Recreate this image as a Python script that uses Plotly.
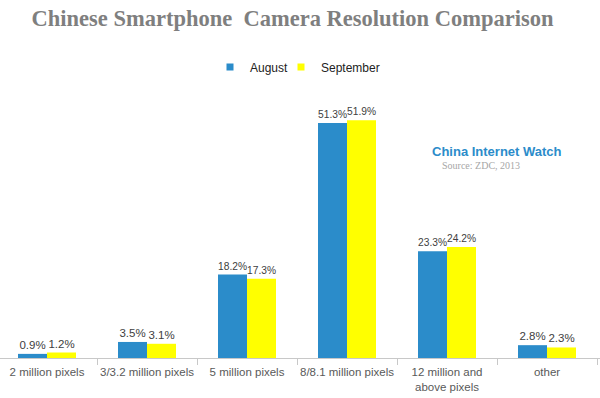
import plotly.graph_objects as go

categories = ["2 million pixels", "3/3.2 million pixels", "5 million pixels",
              "8/8.1 million pixels", "12 million and<br>above pixels", "other"]
august = [0.9, 3.5, 18.2, 51.3, 23.3, 2.8]
september = [1.2, 3.1, 17.3, 51.9, 24.2, 2.3]
series_names = ["August", "September"]

blue = "#2B8CCA"
yellow = "#FFFF00"
label_font = dict(size=11.5, color="#404040", family="Liberation Sans")

fig = go.Figure()
for name, vals, col, lg in [(series_names[0], august, blue, "legend"),
                            (series_names[1], september, yellow, "legend2")]:
    fig.add_trace(go.Bar(name=name, x=categories, y=vals, marker_color=col,
                         marker_line_width=0,
                         text=[f"{v}%" for v in vals], textposition="outside",
                         textfont=label_font, cliponaxis=False, showlegend=False))
    # legend entry with small square swatch
    fig.add_trace(go.Scatter(name=name, x=[None], y=[None], mode="markers",
                             marker=dict(symbol="square", size=7, color=col),
                             showlegend=True, legend=lg))

legend_common = dict(orientation="h", xanchor="left", y=1.058, yanchor="middle",
                     font=dict(family="Liberation Sans", size=12, color="#222222"),
                     itemwidth=30, bgcolor="rgba(0,0,0,0)")

fig.update_layout(
    width=600, height=398,
    barmode="group", bargap=0.42, bargroupgap=0,
    plot_bgcolor="white", paper_bgcolor="white",
    margin=dict(l=0, r=0, t=83, b=40, autoexpand=False),
    title=dict(text="<b>Chinese Smartphone  Camera Resolution Comparison</b>",
               x=0.4875, xanchor="center", y=0.955, yanchor="middle",
               font=dict(family="Liberation Serif", size=22.5, color="#7F7F7F")),
    legend=dict(x=210 / 600, **legend_common),
    legend2=dict(x=281 / 600, **legend_common),
    showlegend=True,
)
fig.update_xaxes(range=[-0.47, 5.53], showline=True, linecolor="#C8C8C8", linewidth=1,
                 ticks="outside", tickson="boundaries", ticklen=6, tickcolor="#C8C8C8",
                 tickangle=0, automargin=False, ticklabelstandoff=3,
                 tickfont=dict(family="Liberation Sans", size=11.5, color="#595959"))
fig.update_yaxes(range=[0, 60], visible=False, showgrid=False, automargin=False)

fig.add_annotation(text="<b>China Internet Watch</b>", xref="paper", yref="paper",
                   x=497 / 600, y=(358 - 151) / 275, xanchor="center", yanchor="middle",
                   showarrow=False,
                   font=dict(family="Liberation Sans Narrow, Liberation Sans", size=13, color="#2B8CCA"))
fig.add_annotation(text="Source: ZDC, 2013", xref="paper", yref="paper",
                   x=440 / 600, y=(358 - 165) / 275, xanchor="left", yanchor="middle",
                   showarrow=False,
                   font=dict(family="Liberation Serif", size=10, color="#A6A6A6"))

fig.write_html("out.html", config={"displayModeBar": False},
               post_script="document.body.style.margin='0';")
